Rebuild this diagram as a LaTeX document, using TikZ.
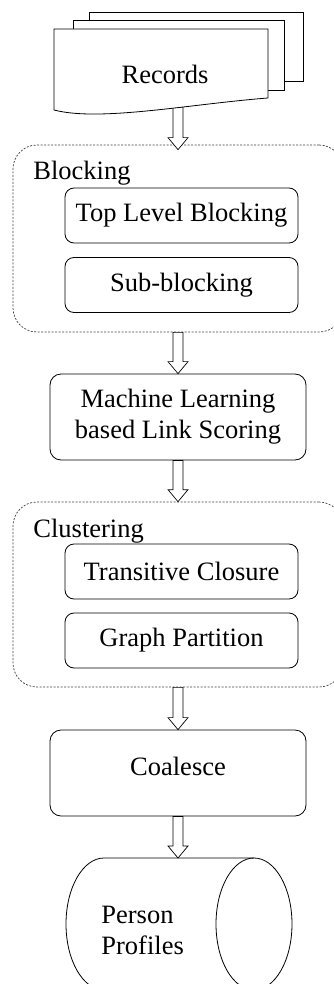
\documentclass[tikz,border=0pt]{standalone}
\usepackage{fontspec}
\setmainfont{Liberation Serif}
\usetikzlibrary{shapes,calc}

% hollow block arrow from #1 down to #2 (same x)
\newcommand{\flowarrow}[2]{%
  \draw [flowarr] ($(#1)+(-5,0)$) -- ($(#2)+(-5,-12)$) -- ($(#2)+(-10,-12)$)
    -- (#2) -- ($(#2)+(10,-12)$) -- ($(#2)+(5,-12)$) -- ($(#1)+(5,0)$) -- cycle;}

\begin{document}
\begin{tikzpicture}[x=1pt, y=-1pt, line width=0.8pt,
    font=\fontsize{26.5}{31}\selectfont,
    subbox/.style={rectangle, draw, rounded corners=9pt, minimum width=233pt,
      minimum height=55pt, inner sep=0pt},
    stagebox/.style={rectangle, draw, rounded corners=11pt, minimum width=256pt,
      minimum height=86pt, align=center, inner sep=0pt},
    groupbox/.style={rectangle, draw=black!75, line width=0.7pt,
      dash pattern=on 2pt off 1.5pt, rounded corners=24pt, minimum width=330pt,
      inner sep=0pt},
    groupname/.style={anchor=base west, inner sep=0pt},
    sheet/.style={draw, fill=white},
    drum/.style={x radius=38pt, y radius=66pt},
    flowarr/.style={draw, fill=white, line width=0.7pt}]

    \useasboundingbox (0,0) rectangle (334,984);

    % stacked record sheets
    \draw [sheet] (89,12) rectangle (303,81);
    \draw [sheet] (73,20) rectangle (284,90);

    % blocking stage
    \node [groupbox, minimum height=187pt] (blocking) at (178,238.5) {};
    \node [groupname] (blockname) at (33,180) {Blocking};
    \node [subbox] (toplevel) at (181.5,215.5) {Top Level Blocking};
    \node [subbox] (subblock) at (181.5,285) {Sub-blocking};

    \coordinate (recbot) at (178,107);
    \coordinate (blocktip) at ($(blocking.north)+(0,5)$);
    \flowarrow{recbot}{blocktip}

    % front sheet with wavy bottom
    \draw [sheet] (54,29) -- (268,29) -- (268,98)
      .. controls (190,104) and (100,122) .. (54,110) -- cycle;
    \node [anchor=base] (records) at (165,84) {Records};

    \node [stagebox] (scoring) at (178,417) {Machine Learning\\based Link Scoring};

    % clustering stage
    \node [groupbox, minimum height=185pt] (clustering) at (178,594.5) {};
    \node [groupname] (clustname) at (33,537) {Clustering};
    \node [subbox] (closure) at (181.5,571.5) {Transitive Closure};
    \node [subbox] (partition) at (181.5,640.5) {Graph Partition};

    \node [stagebox, text height=18pt, text depth=14pt] (coalesce) at (178,773) {Coalesce};

    % person profiles store (lying cylinder)
    \draw (254,858) -- (104,858) arc [start angle=90, end angle=270, drum] -- (254,990);
    \draw (254,924) ellipse [drum];
    \coordinate (profiles) at (178,858);
    \node [anchor=west, align=left, inner sep=0pt] (proftext) at (101,930) {Person\\Profiles};

    \flowarrow{blocking.south}{scoring.north}
    \flowarrow{scoring.south}{clustering.north}
    \flowarrow{clustering.south}{coalesce.north}
    \flowarrow{coalesce.south}{profiles}
\end{tikzpicture}
\end{document}
